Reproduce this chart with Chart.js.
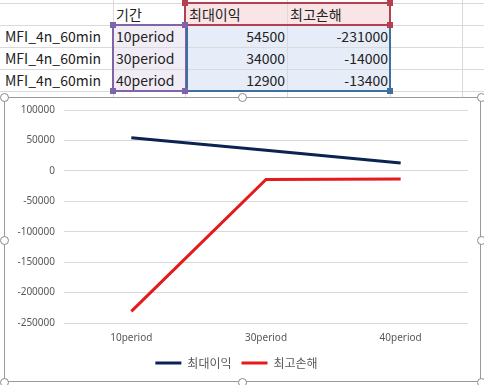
<!DOCTYPE html>
<html>
<head>
<meta charset="utf-8">
<script src="https://cdn.jsdelivr.net/npm/chart.js@4"></script>
<style>
body { margin:0; width:484px; height:385px; overflow:hidden; background:#fff; position:relative;
  font-family:"Noto Sans CJK KR","Noto Sans",sans-serif; }
.hl { position:absolute; left:0; width:484px; height:1px; background:#dadada; }
.vl { position:absolute; top:0; height:100px; width:1px; background:#dadada; }
.cell { position:absolute; height:22px; line-height:22px; font-size:14px; color:#222; white-space:nowrap; }
.fill { position:absolute; }
.box { position:absolute; border:2px solid; box-sizing:border-box; }
.sq { position:absolute; width:6px; height:6px; }
#frame { position:absolute; left:4px; top:97px; width:477px; height:285px; background:#fff;
  border:1px solid #9a9a9a; box-sizing:border-box; }
.h { position:absolute; width:9px; height:9px; border-radius:50%; border:1.5px solid #8a8a8a; background:#fff; box-sizing:border-box; }
</style>
</head>
<body>
<div id="sheet"></div>
<div id="frame"><canvas id="myChart" width="475" height="283"></canvas></div>
<script>
// 표 / 차트 데이터
var names = ["MFI_4n_60min", "MFI_4n_60min", "MFI_4n_60min"];
var periods = ["10period", "30period", "40period"];
var seriesNames = ["최대이익", "최고손해"];
var maxProfit = [54500, 34000, 12900];
var maxLoss = [-231000, -14000, -13400];
var yTicks = [100000, 50000, 0, -50000, -100000, -150000, -200000, -250000];

function drawSheet() {
    var s = document.getElementById("sheet");
    var html = "";
    var rows = [3, 25, 47, 69, 91];
    var cols = [113, 185, 287, 390, 462];
    // 채우기
    html += '<div class="fill" style="left:113px;top:25px;width:72px;height:66px;background:#f1edf6"></div>';
    html += '<div class="fill" style="left:185px;top:3px;width:205px;height:22px;background:#f9e5e6"></div>';
    html += '<div class="fill" style="left:185px;top:25px;width:205px;height:66px;background:#e6edf8"></div>';
    for (var i = 0; i < rows.length; ++i)
	html += '<div class="hl" style="top:' + rows[i] + 'px"></div>';
    for (var j = 0; j < cols.length; ++j)
	html += '<div class="vl" style="left:' + cols[j] + 'px"></div>';
    html += '<div class="cell" style="left:116px;top:3px">기간</div>';
    html += '<div class="cell" style="left:189px;top:3px">' + seriesNames[0] + '</div>';
    html += '<div class="cell" style="left:290px;top:3px">' + seriesNames[1] + '</div>';
    for (var r = 0; r < 3; ++r) {
	var t = 25 + r * 22;
	html += '<div class="cell" style="left:5px;top:' + t + 'px">' + names[r] + '</div>';
	html += '<div class="cell" style="left:116px;top:' + t + 'px">' + periods[r] + '</div>';
	html += '<div class="cell" style="left:185px;width:100px;text-align:right;top:' + t + 'px">' + maxProfit[r] + '</div>';
	html += '<div class="cell" style="left:287px;width:101px;text-align:right;top:' + t + 'px">' + maxLoss[r] + '</div>';
    }
    // 범위 테두리
    html += '<div class="box" style="left:112px;top:24px;width:75px;height:68px;border-color:#8064a8"></div>';
    html += '<div class="box" style="left:184px;top:2px;width:207px;height:24px;border-color:#b4404f"></div>';
    html += '<div class="box" style="left:186px;top:24px;width:205px;height:68px;border-color:#3f6f9c;border-top:none"></div>';
    html += '<div class="sq" style="left:110px;top:22px;background:#8064a8"></div>';
    html += '<div class="sq" style="left:182px;top:22px;background:#8064a8"></div>';
    html += '<div class="sq" style="left:110px;top:88px;background:#8064a8"></div>';
    html += '<div class="sq" style="left:182px;top:88px;background:#8064a8"></div>';
    html += '<div class="sq" style="left:182px;top:0px;background:#b4404f"></div>';
    html += '<div class="sq" style="left:387px;top:0px;background:#b4404f"></div>';
    html += '<div class="sq" style="left:387px;top:22px;background:#b4404f"></div>';
    html += '<div class="sq" style="left:387px;top:88px;background:#3f6f9c"></div>';
    s.innerHTML = html;
}

function drawChart() {
    var ctx = document.getElementById("myChart").getContext("2d");
    var myChart = new Chart(ctx, {
	type: 'line',
	data: {
	    labels: periods,
	    datasets: [
		{ label: seriesNames[0], data: maxProfit, borderColor: "#0b2252", backgroundColor: "#0b2252",
		  borderWidth: 3, pointRadius: 0, tension: 0 },
		{ label: seriesNames[1], data: maxLoss, borderColor: "#e41a1c", backgroundColor: "#e41a1c",
		  borderWidth: 3, pointRadius: 0, tension: 0 }
	    ]
	},
	options: {
	    responsive: false,
	    animation: false,
	    layout: { padding: { left: 0, right: 12, top: 12, bottom: 2 } },
	    scales: {
		x: {
		    offset: true,
		    grid: { display: false },
		    border: { display: false },
		    ticks: { color: "#595959", font: { size: 10, family: "Noto Sans" }, padding: 1, maxRotation: 0 },
		    afterFit: function(scale) { scale.height = 24; }
		},
		y: {
		    min: -250000, max: 100000,
		    afterBuildTicks: function(scale) { scale.ticks = yTicks.map(function(v) { return { value: v }; }); },
		    grid: { color: "#d9d9d9", drawTicks: false },
		    border: { display: false },
		    ticks: { color: "#595959", font: { size: 10, family: "Noto Sans" }, padding: 9,
			     callback: function(v) { return String(v); } },
		    afterFit: function(scale) { scale.width = 59; scale.paddingTop = 3; }
		}
	    },
	    plugins: {
		legend: {
		    position: 'bottom',
		    labels: { boxWidth: 26, boxHeight: 3, padding: 10, color: "#595959",
			      font: { size: 12, family: "Noto Sans CJK KR" },
			      generateLabels: function(chart) {
				  var items = Chart.defaults.plugins.legend.labels.generateLabels(chart);
				  items.forEach(function(it) { it.lineWidth = 0; });
				  return items;
			      } }
		},
		tooltip: { enabled: false }
	    }
	}
    });
}

function drawHandles() {
    var pts = [[4,97],[242,97],[481,97],[4,240],[481,240],[4,382],[242,382],[481,382]];
    for (var i = 0; i < pts.length; ++i) {
	var d = document.createElement("div");
	d.className = "h";
	d.style.left = (pts[i][0] - 4.5) + "px";
	d.style.top = (pts[i][1] - 4.5) + "px";
	document.body.appendChild(d);
    }
}

drawSheet();
drawChart();
drawHandles();
</script>
</body>
</html>
